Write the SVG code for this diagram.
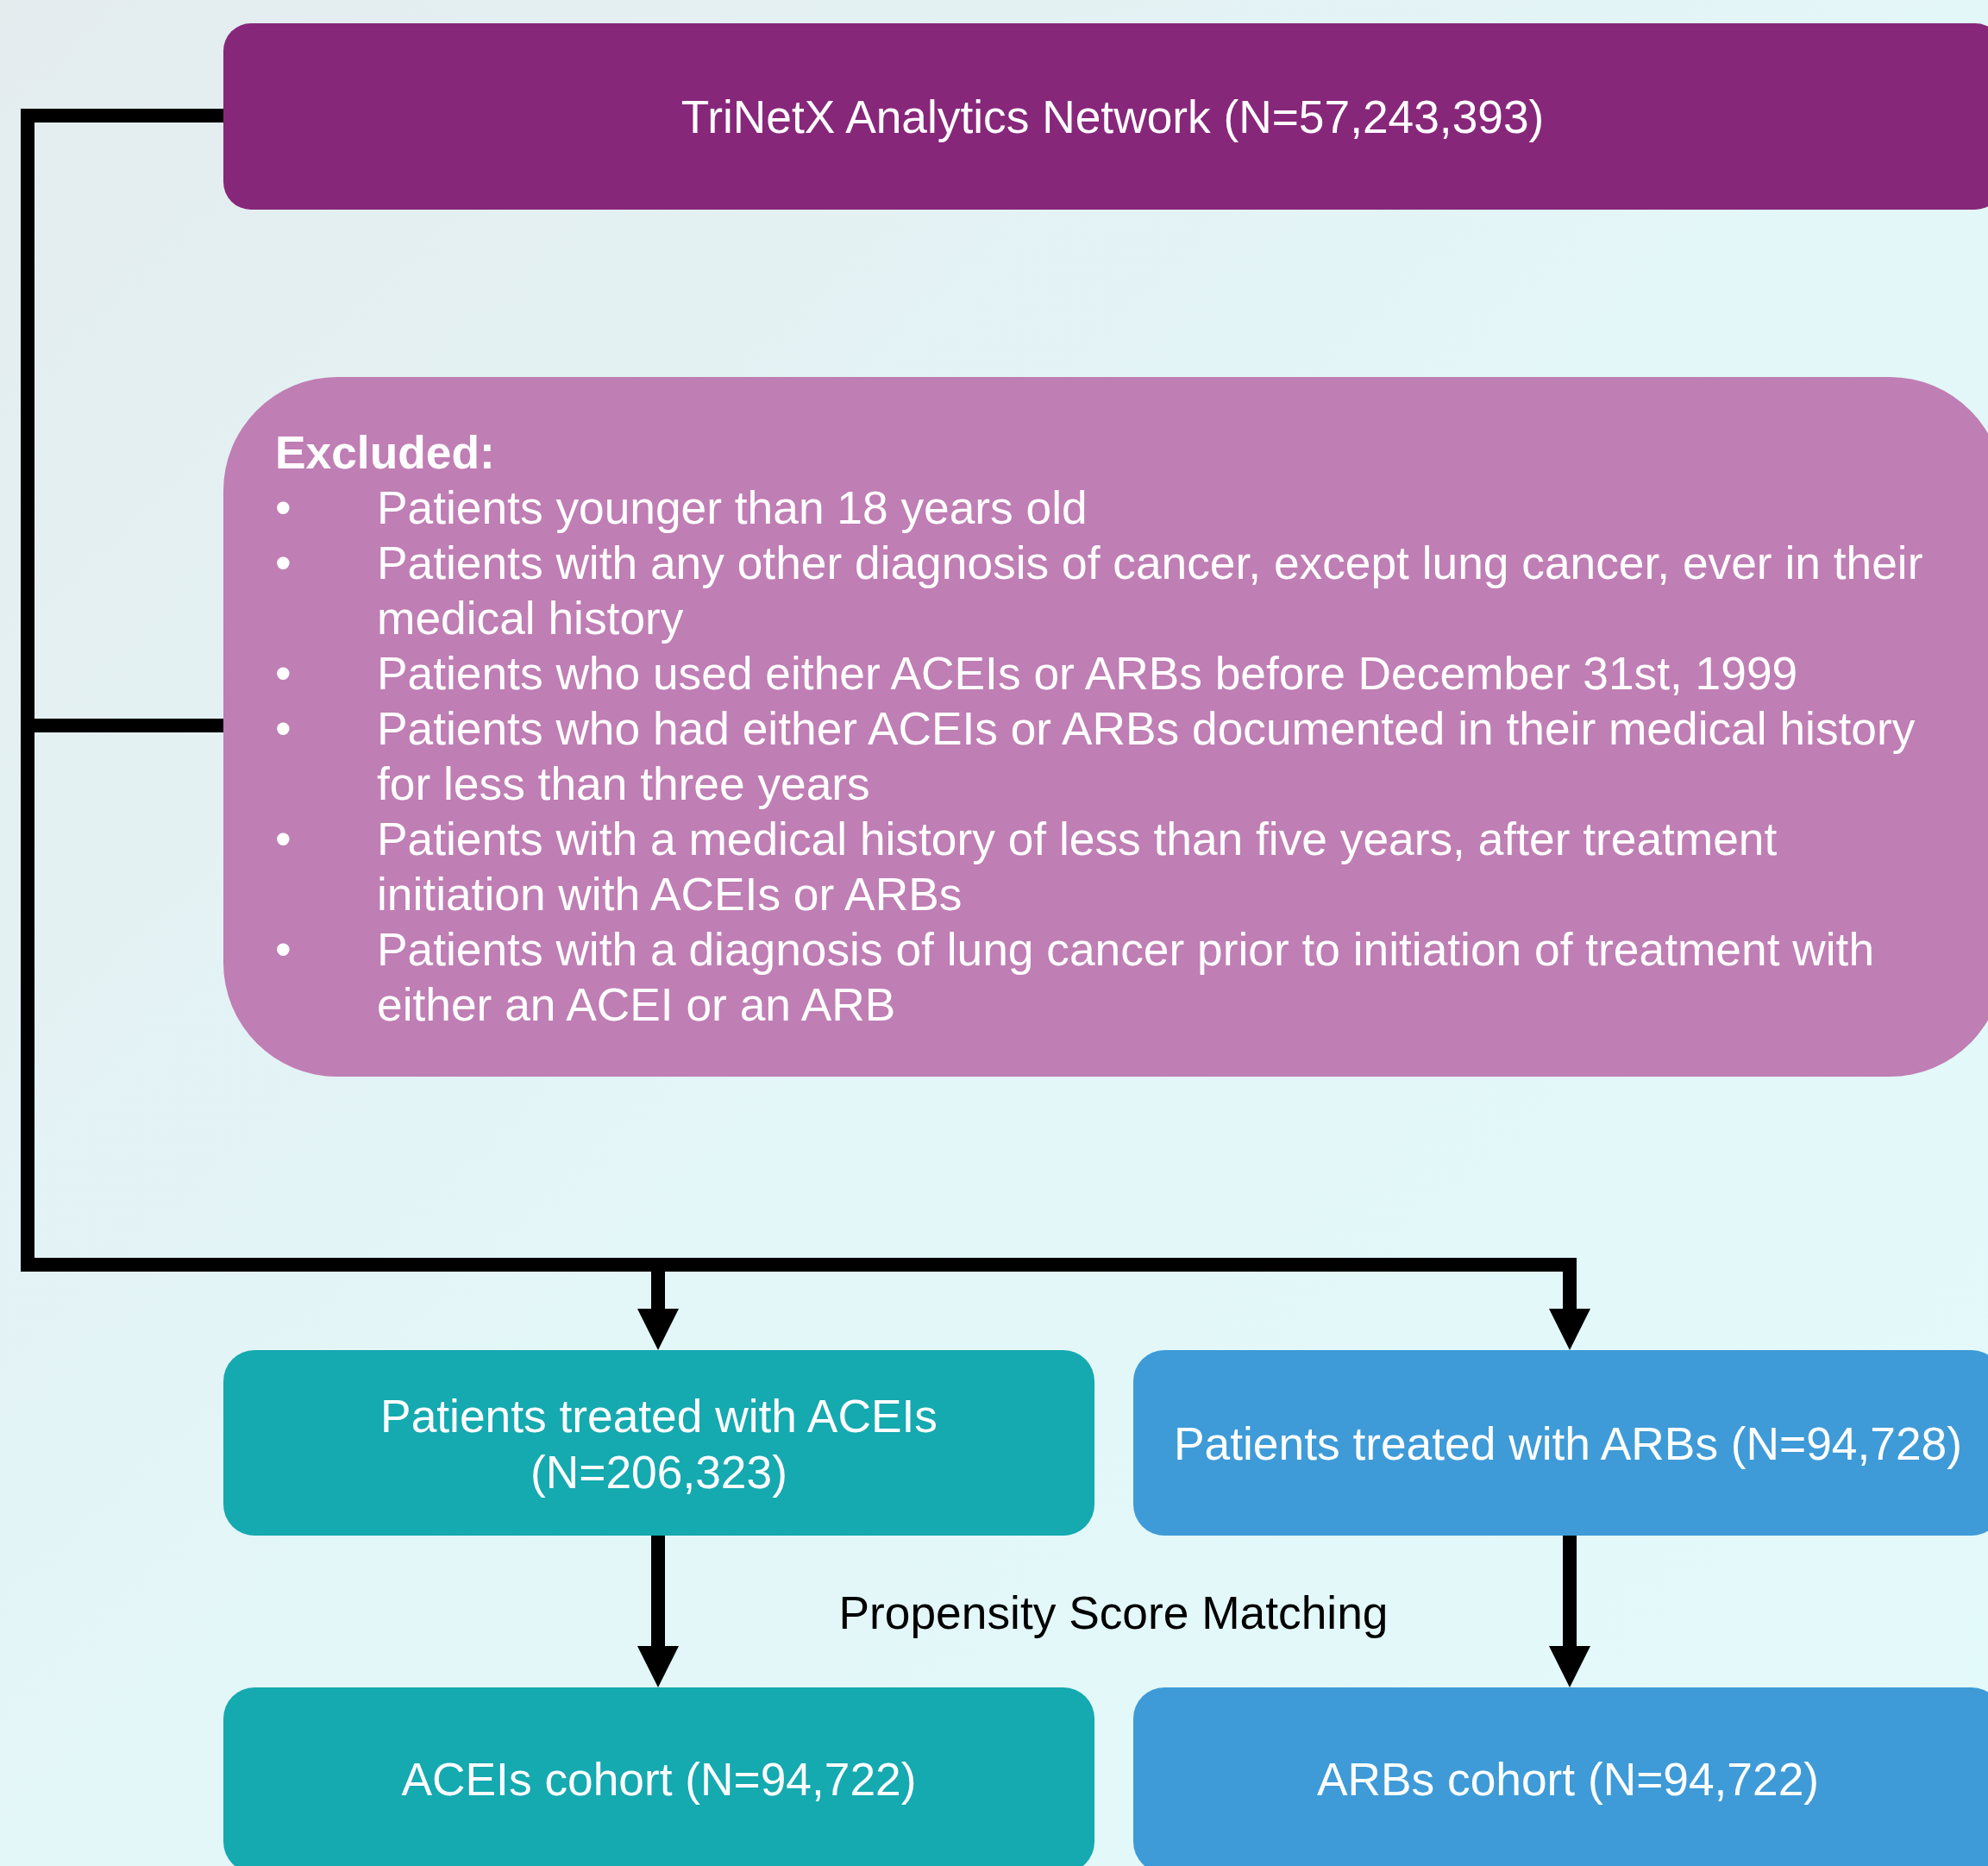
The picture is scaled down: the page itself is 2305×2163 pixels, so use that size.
<svg xmlns="http://www.w3.org/2000/svg" width="2305" height="2163" viewBox="0 0 2305 2163">
<defs>
<linearGradient id="bg" x1="0" y1="0" x2="1" y2="1">
<stop offset="0" stop-color="#E4ECEE"/>
<stop offset="0.5" stop-color="#E3F6F8"/>
<stop offset="1" stop-color="#E3FAFB"/>
</linearGradient>
<style>
text{font-family:"Liberation Sans",Arial,sans-serif;font-size:53.3px;fill:#FFFFFF}
.c{text-anchor:middle}
.b{font-weight:bold}
.k{fill:#000000}
.line{fill:none;stroke:#000000;stroke-width:16;stroke-linejoin:miter;stroke-linecap:butt}
.head{fill:#000000}
</style>
</defs>
<rect x="0" y="0" width="2305" height="2163" fill="url(#bg)"/>

<g id="connectors">
<path class="line" d="M259,134 H32 V1466 H1820 V1519"/>
<path class="line" d="M32,841 H259"/>
<path class="line" d="M763,1466 V1519"/>
<path class="line" d="M763,1780 V1910"/>
<path class="line" d="M1820,1780 V1910"/>
<polygon class="head" points="739,1517 787,1517 763,1565"/>
<polygon class="head" points="1796,1517 1844,1517 1820,1565"/>
<polygon class="head" points="739,1908 787,1908 763,1956"/>
<polygon class="head" points="1796,1908 1844,1908 1820,1956"/>
<text class="k c" x="1291" y="1888">Propensity Score Matching</text>
</g>

<g id="trinetx">
<rect x="259" y="27" width="2063" height="216" rx="32" ry="32" fill="#87277A"/>
<text class="c" x="1290" y="154">TriNetX Analytics Network (N=57,243,393)</text>
</g>

<g id="excluded">
<rect x="259" y="437" width="2064" height="811" rx="132" ry="132" fill="#BF7EB4"/>
<text class="b" x="319" y="543">Excluded:</text>
<text x="319" y="607">•</text>
<text x="437" y="607">Patients younger than 18 years old</text>
<text x="319" y="671">•</text>
<text x="437" y="671">Patients with any other diagnosis of cancer, except lung cancer, ever in their</text>
<text x="437" y="735">medical history</text>
<text x="319" y="799">•</text>
<text x="437" y="799">Patients who used either ACEIs or ARBs before December 31st, 1999</text>
<text x="319" y="863">•</text>
<text x="437" y="863">Patients who had either ACEIs or ARBs documented in their medical history</text>
<text x="437" y="927">for less than three years</text>
<text x="319" y="991">•</text>
<text x="437" y="991">Patients with a medical history of less than five years, after treatment</text>
<text x="437" y="1055">initiation with ACEIs or ARBs</text>
<text x="319" y="1119">•</text>
<text x="437" y="1119">Patients with a diagnosis of lung cancer prior to initiation of treatment with</text>
<text x="437" y="1183">either an ACEI or an ARB</text>
</g>

<g id="acei">
<rect x="259" y="1565" width="1010" height="215" rx="36" ry="36" fill="#15A9B0"/>
<text class="c" x="764" y="1660">Patients treated with ACEIs</text>
<text class="c" x="764" y="1725">(N=206,323)</text>
</g>

<g id="arb">
<rect x="1314" y="1565" width="1008" height="215" rx="36" ry="36" fill="#3E9BD7"/>
<text class="c" x="1818" y="1692">Patients treated with ARBs (N=94,728)</text>
</g>

<g id="acei-cohort">
<rect x="259" y="1956" width="1010" height="215" rx="36" ry="36" fill="#15A9B0"/>
<text class="c" x="764" y="2081">ACEIs cohort (N=94,722)</text>
</g>

<g id="arb-cohort">
<rect x="1314" y="1956" width="1008" height="215" rx="36" ry="36" fill="#3E9BD7"/>
<text class="c" x="1818" y="2081">ARBs cohort (N=94,722)</text>
</g>
</svg>
